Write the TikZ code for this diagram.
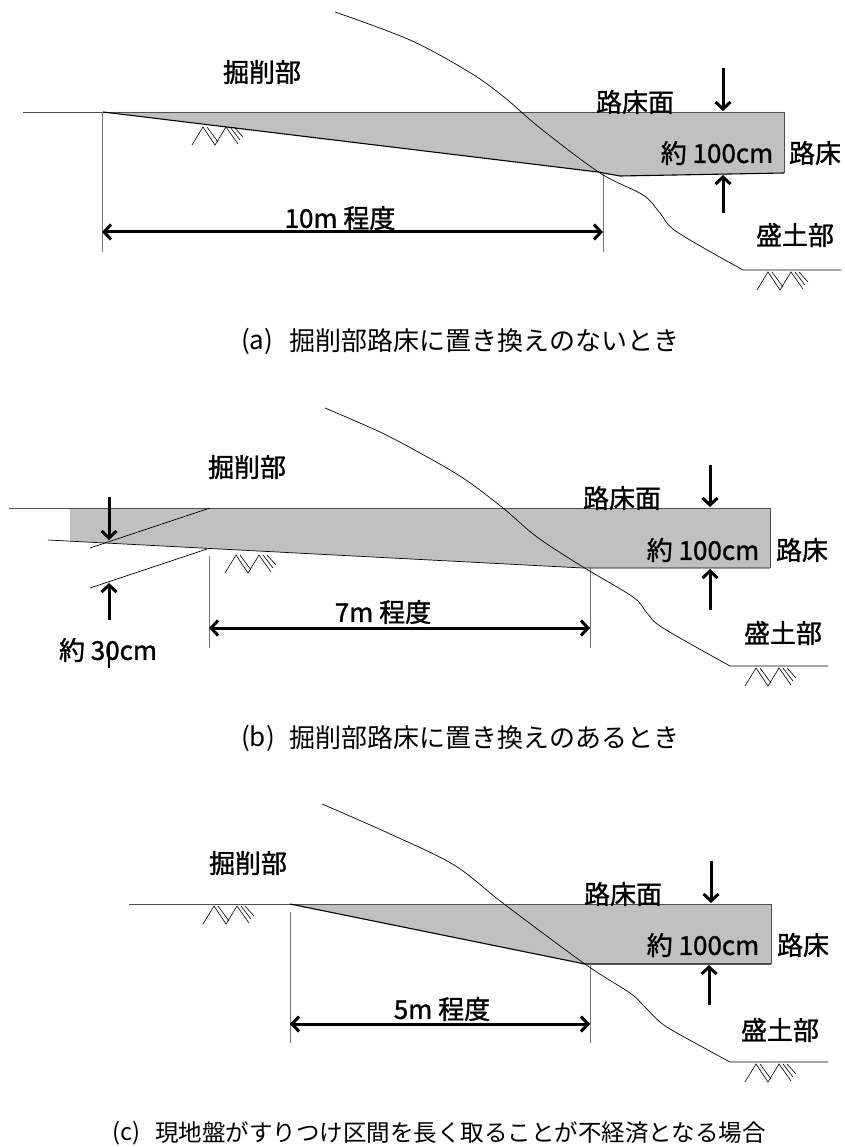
\documentclass[tikz,border=0pt]{standalone}
\usepackage{fontspec}
\setmainfont{Noto Sans CJK JP}
\newfontfamily\lblfont[FakeBold=1.2]{Noto Sans CJK JP}
\usetikzlibrary{arrows.meta}
\definecolor{subgrade}{HTML}{C0C0C0}
\definecolor{gline}{HTML}{505050}
\tikzset{
  groundline/.style={draw=gline, line width=0.8pt},
  dimline/.style={draw=black!55, line width=1pt},
  slopecurve/.style={draw=black, line width=0.7pt},
  cutline/.style={draw=black, line width=1.1pt},
  subfill/.style={fill=subgrade},
  dimarrow/.style={line width=3pt, {Straight Barb[length=7pt,width=15pt]}-{Straight Barb[length=7pt,width=15pt]}},
  thkarrow/.style={line width=3pt, -{Straight Barb[length=7pt,width=15pt]}},
  lbl/.style={font=\lblfont\fontsize{26pt}{30pt}\selectfont, inner sep=0pt},
  captext/.style={font=\fontsize{26pt}{30pt}\selectfont, inner sep=0pt, anchor=west},
  captextc/.style={font=\fontsize{23.5pt}{28pt}\selectfont, inner sep=0pt, anchor=west},
  hatchsym/.pic={
    \draw[line width=0.6pt]
      (0,18)--(11,0)--(23,18)--(34,0)--(46,17)
      (15,0)--(26,15)
      (38,0)--(48,13)
      (42,0)--(51,10);
  }
}
\begin{document}
\begin{tikzpicture}[x=1pt,y=-1pt]
\useasboundingbox (0,0) rectangle (844,1147);

% ================= (a) =================
\fill[subfill] (103,112) -- (784,112) -- (784,173) -- (620,176) -- (598,172) -- cycle;
\draw[groundline] (23,112) -- (784,112) -- (784,173);
\draw[cutline] (103,112) -- (598,172) -- (620,176) -- (784,173);
\draw[dimline] (102,112) -- (102,252);
\draw[dimline] (603,174) -- (603,252);
\coordinate (aL) at (102,232);
\coordinate (aR) at (603,232);
\draw[dimarrow] (aL) -- (aR);
\coordinate (aD0) at (723,68);
\coordinate (aD1) at (723,111);
\coordinate (aU0) at (723,213);
\coordinate (aU1) at (723,175);
\draw[thkarrow] (aD0) -- (aD1);
\draw[thkarrow] (aU0) -- (aU1);
\draw[slopecurve] plot[smooth, tension=0.55] coordinates {(335,12) (410,40) (469,72) (504,97) (540,128) (600,173) (643,195) (660,213) (677,232) (743,270)} -- (841,270);
\pic at (192,127) {hatchsym};
\pic at (757,272) {hatchsym};
\node[lbl] (a1) at (262,72) {掘削部};
\node[lbl] (a2) at (635,102) {路床面};
\node[lbl] (a3) at (717,153) {約 100cm};
\node[lbl] (a4) at (815,153) {路床};
\node[lbl] (a5) at (340,218) {10m 程度};
\node[lbl] (a6) at (795,235) {盛土部};
\node[captext] (ca1) at (241,341) {(a)};
\node[captext] (ca2) at (289,341) {掘削部路床に置き換えのないとき};

% ================= (b) =================
\fill[subfill] (70,509) -- (770,509) -- (770,568) -- (583,568) -- (70,541) -- cycle;
\draw[groundline] (9,508) -- (770,508) -- (770,568);
\draw[slopecurve] (48,540) -- (583,568) -- (770,568);
\draw[slopecurve] (90,548) -- (210,508);
\draw[slopecurve] (90,588) -- (207,549);
\draw[dimline] (209,556) -- (209,648);
\draw[dimline] (590,568) -- (590,648);
\coordinate (bL) at (209,628);
\coordinate (bR) at (590,628);
\draw[dimarrow] (bL) -- (bR);
\coordinate (bD0) at (109,497);
\coordinate (bD1) at (109,540);
\coordinate (bU0) at (109,620);
\coordinate (bU1) at (109,583);
\draw[thkarrow] (bD0) -- (bD1);
\draw[thkarrow] (bU0) -- (bU1);
\coordinate (bT0) at (109,645);
\coordinate (bT1) at (109,668);
\draw[line width=1.8pt] (bT0) -- (bT1);
\coordinate (bD2) at (710,465);
\coordinate (bD3) at (710,507);
\coordinate (bU2) at (710,610);
\coordinate (bU3) at (710,569);
\draw[thkarrow] (bD2) -- (bD3);
\draw[thkarrow] (bU2) -- (bU3);
\draw[slopecurve] plot[smooth, tension=0.55] coordinates {(325,408) (380,432) (420,453) (463,478) (503,508) (537,537) (583,567) (633,597) (647,613) (663,628) (730,666)} -- (828,666);
\pic at (225,555) {hatchsym};
\pic at (745,668) {hatchsym};
\node[lbl] (b1) at (247,467) {掘削部};
\node[lbl] (b2) at (622,498) {路床面};
\node[lbl] (b3) at (703,550) {約 100cm};
\node[lbl] (b4) at (802,550) {路床};
\node[lbl] (b5) at (383,612) {7m 程度};
\node[lbl] (b6) at (783,633) {盛土部};
\node[lbl] (b7) at (108,650) {約 30cm};
\node[captext] (cb1) at (241,738) {(b)};
\node[captext] (cb2) at (289,738) {掘削部路床に置き換えのあるとき};

% ================= (c) =================
\fill[subfill] (290,904) -- (771,904) -- (771,964) -- (585,964) -- cycle;
\draw[groundline] (129,904) -- (771,904) -- (771,964);
\draw[cutline] (290,904) -- (585,964) -- (771,964);
\draw[dimline] (290,912) -- (290,1043);
\draw[dimline] (590,964) -- (590,1043);
\coordinate (cL) at (290,1024);
\coordinate (cR) at (590,1024);
\draw[dimarrow] (cL) -- (cR);
\coordinate (cD0) at (711,861);
\coordinate (cD1) at (711,903);
\coordinate (cU0) at (709,1005);
\coordinate (cU1) at (709,965);
\draw[thkarrow] (cD0) -- (cD1);
\draw[thkarrow] (cU0) -- (cU1);
\draw[slopecurve] plot[smooth, tension=0.55] coordinates {(322,804) (388,833) (454,865) (504,904) (585,964) (630,993) (643,1005) (660,1022) (677,1033) (730,1062)} -- (828,1062);
\pic at (203,906) {hatchsym};
\pic at (745,1064) {hatchsym};
\node[lbl] (c1) at (248,863) {掘削部};
\node[lbl] (c2) at (623,894) {路床面};
\node[lbl] (c3) at (703,945) {約 100cm};
\node[lbl] (c4) at (803,945) {路床};
\node[lbl] (c5) at (442,1009) {5m 程度};
\node[lbl] (c6) at (780,1030) {盛土部};
\node[captextc] (cc1) at (112,1133) {(c)};
\node[captextc] (cc2) at (155,1133) {現地盤がすりつけ区間を長く取ることが不経済となる場合};
\end{tikzpicture}
\end{document}
